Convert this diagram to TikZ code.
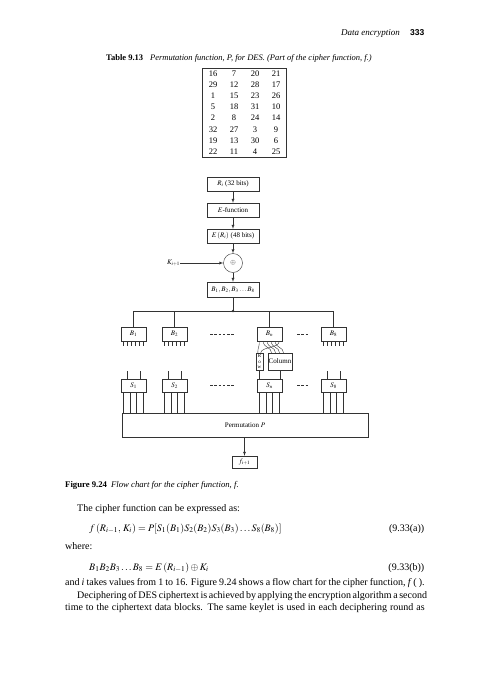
\documentclass[tikz,border=0pt]{standalone}
\usepackage{mathptmx}
\usepackage{fontspec}
\setmainfont{Liberation Serif}
\newfontfamily\hdsans{Liberation Sans}
\usetikzlibrary{positioning,calc}

\tikzset{
  wire/.style={draw=black!80, line width=0.4pt},
  blk/.style={wire, inner sep=1pt, font=\fontsize{7}{8}\selectfont},
  wideblk/.style={blk, minimum width=52pt, minimum height=14pt},
  sbox/.style={blk, minimum width=25pt, minimum height=14pt},
  txt/.style={inner sep=0pt, font=\fontsize{10}{12.5}\selectfont},
  dots/.style={wire, dash pattern=on 2.5pt off 1.7pt},
}

\begin{document}
\begin{tikzpicture}[x=1pt, y=-1pt, >=latex]
  \useasboundingbox (0,0) rectangle (481,680);

  % running head
  \node[txt, anchor=base east, font=\fontsize{9}{11}\selectfont\itshape] (head) at (400,35) {Data encryption};
  \node[txt, anchor=base east, font=\fontsize{8.5}{11}\selectfont\hdsans\bfseries] (page) at (424.5,35) {333};

  % table 9.13
  \node[txt, anchor=base west, font=\fontsize{8.5}{10}\selectfont] (tcap) at (106,60)
    {\textbf{Table 9.13}\hspace{7pt}\textit{Permutation function, P, for DES. (Part of the cipher function, f.)}};
  \draw[wire] (202,68) rectangle (286,157);
  \foreach \row [count=\r from 0] in {{16,7,20,21},{29,12,28,17},{1,15,23,26},{5,18,31,10},
                                      {2,8,24,14},{32,27,3,9},{19,13,30,6},{22,11,4,25}}
    \foreach \v [count=\c from 0] in \row
      \node[txt, anchor=base, font=\fontsize{8.5}{10}\selectfont] (t-\r-\c) at (213+21*\c, 76.5+11.1*\r) {\v};

  % flow chart
  \node[wideblk] (ri) at (233,184) {$R_i$ (32 bits)};
  \node[wideblk] (efun) at (233,210) {$E$-function};
  \node[wideblk] (eri) at (233,236) {$E\,(R_i)$ (48 bits)};
  \node[wire, circle, minimum size=19pt, inner sep=0pt, font=\fontsize{7}{8}\selectfont] (xor) at (233,263) {$\oplus$};
  \node[txt, font=\fontsize{7}{8}\selectfont] (kin) at (173.5,263) {$K_{i+1}$};
  \node[wideblk, minimum height=15pt] (bs) at (233,289.5) {$B_1, B_2, B_3 \ldots B_8$};
  \coordinate (dot) at (233,311);
  \fill[black!80] (dot) circle (1.4pt);

  \foreach \n/\x/\l in {b1/133.5/1, b2/174.5/2, bn/269.5/n, b8/333.5/8}
    \node[sbox] (\n) at (\x,334) {$B_{\l}$};
  \foreach \n/\x/\l in {s1/133.5/1, s2/174.5/2, sn/269.5/n, s8/333.5/8}
    \node[sbox, minimum height=13pt] (\n) at (\x,385.5) {$S_{\l}$};

  \node[blk, minimum width=7pt, minimum height=17pt, inner sep=0pt, align=center,
        font=\fontsize{5}{5.3}\selectfont] (row) at (259.5,361.5) {R\\o\\w};
  \node[blk, minimum width=24pt, minimum height=17pt] (col) at (280,361.5) {Column};

  \node[blk, minimum width=246pt, minimum height=24pt] (perm) at (245,425) {Permutation $P$};
  \node[blk, minimum width=25pt, minimum height=12pt] (fout) at (244.5,462) {$f_{i+1}$};

  \draw[wire, ->] (ri) -- (efun);
  \draw[wire, ->] (efun) -- (eri);
  \draw[wire, ->] (eri) -- (xor);
  \draw[wire, ->] (kin) -- (xor);
  \draw[wire, ->] (xor) -- (bs);
  \draw[wire] (bs) -- (dot);
  \foreach \n in {b1,b2,bn,b8}
    \draw[wire] (dot) -| (\n.north);

  % pins under the B blocks
  \foreach \n in {b1,b2,b8}
    \foreach \k in {0,...,5}
      \draw[wire] ([xshift={\k*4pt+2.5pt}]\n.south west) -- ++(0,5);
  % B_n bits into row and column
  \foreach \k/\tx/\tn in {1/4/col, 2/8/col, 3/12/col, 4/16/col, 0/2/row, 5/5/row}
    \draw[wire] ([xshift={\k*4pt+2.5pt}]bn.south west) .. controls +(0,7) and +(0,-6) .. ([xshift=\tx pt]\tn.north west);
  \draw[wire] (row.south) -- (row.south |- sn.north);
  \draw[wire] (col.south) -- (col.south |- sn.north);

  % inputs above the S boxes
  \foreach \n in {s1,s2,s8}
    \foreach \o in {6,19}
      \draw[wire] ([xshift=\o pt]\n.north west) -- ++(0,-8);
  % S outputs into permutation P
  \foreach \n in {s1,s2,sn,s8}
    \foreach \k in {0,...,3}
      \draw[wire] ([xshift={\k*6.7pt+2.4pt}]\n.south west) coordinate (q) -- (q |- perm.north);

  \draw[dots] ([xshift=23pt]b2.east) -- ([xshift=-22pt]bn.west);
  \draw[dots] ([xshift=15pt]bn.east) -- ([xshift=-13pt]b8.west);
  \draw[dots] ([xshift=23pt]s2.east) -- ([xshift=-22pt]sn.west);
  \draw[dots] ([xshift=15pt]sn.east) -- ([xshift=-13pt]s8.west);

  \draw[wire, ->] (fout.north |- perm.south) -- (fout.north);

  % caption and text
  \node[txt, anchor=base west, font=\fontsize{8.7}{10}\selectfont] (fcap) at (65,487)
    {\textbf{Figure 9.24}\hspace{4pt}\textit{Flow chart for the cipher function, f.}};
  \node[txt, anchor=base west] (p1) at (77,511) {The cipher function can be expressed as:};
  \node[txt, anchor=base west] (eqa) at (89,531)
    {$f\,(R_{i-1},\, K_i) = P[S_1(B_1)S_2(B_2)S_3(B_3)\ldots S_8(B_8)]$};
  \node[txt, anchor=base east] (eqan) at (424.5,531) {(9.33(a))};
  \node[txt, anchor=base west] (where) at (65,549) {where:};
  \node[txt, anchor=base west] (eqb) at (89,570) {$B_1B_2B_3\ldots B_8 = E\,(R_{i-1}) \oplus K_i$};
  \node[txt, anchor=base east] (eqbn) at (424.5,570) {(9.33(b))};
  \node[txt, anchor=base west] (l1) at (65,585.5)
    {\makebox[359.5pt][s]{and \textit{i} takes values from 1 to 16. Figure 9.24 shows a flow chart for the cipher function, \textit{f}\,( ).}};
  \node[txt, anchor=base west] (l2) at (77,598)
    {\makebox[347.5pt][s]{Deciphering of DES ciphertext is achieved by applying the encryption algorithm a second}};
  \node[txt, anchor=base west] (l3) at (65,610.5)
    {\makebox[359.5pt][s]{time to the ciphertext data blocks. The same keylet is used in each deciphering round as}};
\end{tikzpicture}
\end{document}
